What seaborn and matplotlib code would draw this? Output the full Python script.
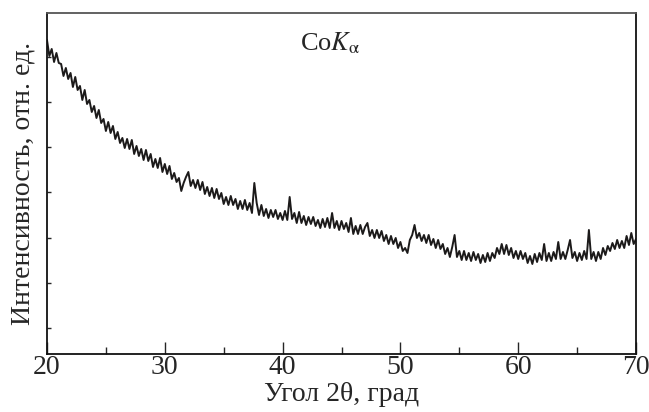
import matplotlib
matplotlib.use("Agg")
import matplotlib.pyplot as plt
import numpy as np
import pandas as pd
import seaborn as sns
from matplotlib.ticker import MultipleLocator

# diffraction angle 2theta, step 0.2 deg (20 ... 70)
angle_start = 20.0
angle_step = 0.2

# intensity, arbitrary units (2 deg per row)
intensity = [
    331, 315, 322, 309, 318, 308, 307, 295, 303, 292,   # 20-22
    298, 284, 294, 281, 285, 271, 281, 267, 271, 259,   # 22-24
    265, 253, 261, 248, 252, 240, 249, 238, 245, 232,   # 24-26
    239, 228, 233, 223, 232, 222, 231, 217, 225, 215,   # 26-28
    222, 211, 221, 210, 217, 204, 212, 203, 213, 199,   # 28-30
    207, 197, 205, 192, 198, 189, 193, 180, 188, 194,   # 30-32
    199, 185, 191, 183, 191, 181, 189, 177, 184, 175,   # 32-34
    183, 173, 182, 172, 178, 167, 174, 166, 175, 166,   # 34-36
    172, 162, 170, 162, 171, 161, 168, 158, 188, 168,   # 36-38
    156, 166, 155, 162, 153, 161, 154, 161, 152, 158,   # 38-40
    151, 160, 151, 174, 152, 158, 148, 159, 148, 155,   # 40-42
    146, 154, 147, 154, 145, 151, 143, 152, 144, 153,   # 42-44
    143, 158, 143, 150, 141, 150, 142, 148, 139, 153,   # 44-46
    137, 145, 137, 146, 137, 144, 148, 135, 141, 133,   # 46-48
    141, 133, 140, 130, 136, 127, 135, 127, 133, 123,   # 48-50
    129, 120, 123, 118, 131, 136, 146, 133, 138, 130,   # 50-52
    136, 128, 136, 126, 132, 123, 131, 122, 127, 117,   # 52-54
    123, 114, 124, 136, 114, 120, 111, 120, 111, 118,   # 54-56
    110, 119, 111, 117, 108, 116, 109, 118, 110, 118,   # 56-58
    113, 123, 117, 127, 117, 126, 116, 123, 113, 120,   # 58-60
    112, 120, 112, 118, 108, 115, 107, 117, 109, 118,   # 60-62
    111, 127, 110, 118, 110, 119, 112, 129, 112, 119,   # 62-64
    112, 121, 131, 113, 119, 110, 118, 111, 120, 112,   # 64-66
    141, 112, 119, 110, 119, 112, 123, 116, 125, 120,   # 66-68
    128, 122, 131, 123, 130, 123, 135, 126, 138, 127,   # 68-70
    132,
]

angle = angle_start + angle_step * np.arange(len(intensity))
df = pd.DataFrame({"angle": angle, "intensity": intensity})

sns.set_style("ticks")
plt.rcParams["font.family"] = ["Liberation Serif", "DejaVu Serif"]
plt.rcParams["mathtext.fontset"] = "stix"
plt.rcParams["xtick.direction"] = "in"
plt.rcParams["ytick.direction"] = "in"

fig = plt.figure(figsize=(6.49, 4.12), dpi=100)
ax = fig.add_axes([0.0724, 0.1408, 0.9076, 0.8277])

sns.lineplot(data=df, x="angle", y="intensity", ax=ax, color="#1c1a1a",
             linewidth=1.4, estimator=None, sort=False)

ax.set_xlim(20, 70)
ax.set_ylim(17, 358)
ax.xaxis.set_major_locator(MultipleLocator(10))
ax.xaxis.set_minor_locator(MultipleLocator(5))
ax.set_yticks(np.arange(43, 330, 45.2))
ax.set_yticklabels([])

ax.tick_params(axis="x", which="major", length=9, width=1.0, labelsize=20,
               pad=1, top=False)
ax.tick_params(axis="x", which="minor", length=5, width=1.0, top=False)
ax.tick_params(axis="y", which="major", length=3, width=1.0, right=False)

for side in ["left", "bottom", "right", "top"]:
    ax.spines[side].set_visible(True)
    ax.spines[side].set_linewidth(1.3)
    ax.spines[side].set_color("#111111")
ax.spines["top"].set_color("#555555")

ax.set_xlabel("Угол 2θ, град", fontsize=20, labelpad=1)
ax.set_ylabel("Интенсивность, отн. ед.", fontsize=20, labelpad=5)

ax.text(0.48, 0.91, r"Co$\mathit{K}_{\mathrm{α}}$", transform=ax.transAxes,
        ha="center", va="center", fontsize=19)

fig.savefig("out.png", dpi=100)
plt.close(fig)
